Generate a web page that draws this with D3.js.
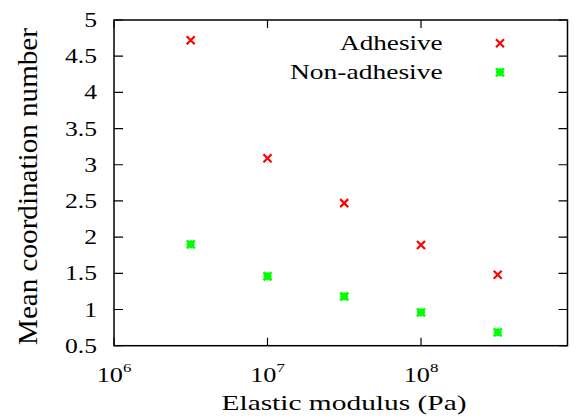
<!DOCTYPE html>
<html>
<head>
<meta charset="utf-8">
<script src="https://cdn.jsdelivr.net/npm/d3@7"></script>
<style>
  body { margin: 0; background: #fff; }
  svg { display: block; }
</style>
</head>
<body>
<svg width="576" height="419"></svg>
<script>
// data
var modulus = [3.16e6, 1e7, 3.16e7, 1e8, 3.16e8];
var adhesive = [4.72, 3.09, 2.47, 1.89, 1.48];
var nonAdhesive = [1.90, 1.46, 1.18, 0.96, 0.685];
var xTicks = [1e6, 1e7, 1e8];
var xTickExp = ["6", "7", "8"];
var yTicks = [0.5, 1, 1.5, 2, 2.5, 3, 3.5, 4, 4.5, 5];

var svg = d3.select("svg");
var margin = { left: 114, right: 8.5, top: 20, bottom: 73.3 };
var W = 576, H = 419;
var fs = 21;

var x = d3.scaleLog().domain([1e6, 9e8]).range([margin.left, W - margin.right]);
var y = d3.scaleLinear().domain([0.5, 5]).range([H - margin.bottom, margin.top]);
var x0 = x.range()[0], x1 = x.range()[1], y0 = y.range()[0], y1 = y.range()[1];

// inward ticks on all four sides
var ticks = svg.append("g").attr("stroke", "#000").attr("stroke-width", 1.2);
ticks.selectAll(null).data(xTicks).enter().append("path")
    .attr("d", d => `M${x(d)},${y0}v-8M${x(d)},${y1}v8`);
ticks.selectAll(null).data(yTicks).enter().append("path")
    .attr("d", d => `M${x0},${y(d)}h9M${x1},${y(d)}h-9`);

// frame
svg.append("rect")
    .attr("x", x0)
    .attr("y", y1)
    .attr("width", x1 - x0)
    .attr("height", y0 - y1)
    .attr("fill", "none")
    .attr("stroke", "#000")
    .attr("stroke-width", 1.5);

// text helper: reference typeface is wider than Times, so stretch with textLength
function label(px, py, str, anchor, opt) {
    opt = opt || {};
    var t = svg.append("text")
        .attr("x", px)
        .attr("y", py)
        .attr("font-family", "Liberation Serif")
        .style("font-family", "'Liberation Serif', 'Times New Roman', serif", "important")
        .attr("font-size", opt.size || fs)
        .attr("text-anchor", anchor)
        .attr("fill", "#000")
        .text(str);
    if (opt.rot) t.attr("transform", `rotate(${opt.rot},${px},${py})`);
    if (opt.sup) {
        t.append("tspan").attr("dy", -10).attr("font-size", 13.5).text(opt.sup);
    }
    var w = opt.width || t.node().getComputedTextLength() * (opt.sx || 1.22);
    t.attr("textLength", w).attr("lengthAdjust", "spacingAndGlyphs");
    return t;
}

// y tick labels
yTicks.forEach(function(d) {
    label(97, y(d) + 7, d, "end");
});

// x tick labels 10^n
xTicks.forEach(function(d, i) {
    label(x(d), 381.7, "10", "middle", { sup: xTickExp[i], sx: 1.25 });
});

// axis titles
label(344, 410, "Elastic modulus (Pa)", "middle", { width: 245 });
label(36.5, 186.5, "Mean coordination number", "middle", { size: 27, rot: -90, width: 317 });

// markers
function cross(g, s) {
    g.append("path")
        .attr("d", `M${-s},${-s}L${s},${s}M${-s},${s}L${s},${-s}`)
        .attr("stroke-width", 2.2);
}
function star(g, s) {
    g.append("path")
        .attr("d", `M${-s},${-s}L${s},${s}M${-s},${s}L${s},${-s}M${-s},0L${s},0M0,${-s}L0,${s}`)
        .attr("stroke-width", 2.6);
}

var series = [
    { name: "Adhesive", values: adhesive, color: "#ff0000", marker: cross, ly: 43.3, lw: 102.7 },
    { name: "Non-adhesive", values: nonAdhesive, color: "#00ff00", marker: star, ly: 72.3, lw: 152.7 }
];

series.forEach(function(s) {
    var pts = svg.selectAll(null)
        .data(s.values)
        .enter().append("g")
        .attr("transform", (d, i) => `translate(${x(modulus[i])},${y(d)})`)
        .attr("stroke", s.color)
        .attr("fill", "none");
    pts.each(function() { s.marker(d3.select(this), 4); });

    // legend
    label(442.7, s.ly + 6.3, s.name, "end", { width: s.lw });
    var lg = svg.append("g")
        .attr("transform", `translate(500,${s.ly})`)
        .attr("stroke", s.color)
        .attr("fill", "none");
    s.marker(lg, 4);
});
</script>
</body>
</html>
